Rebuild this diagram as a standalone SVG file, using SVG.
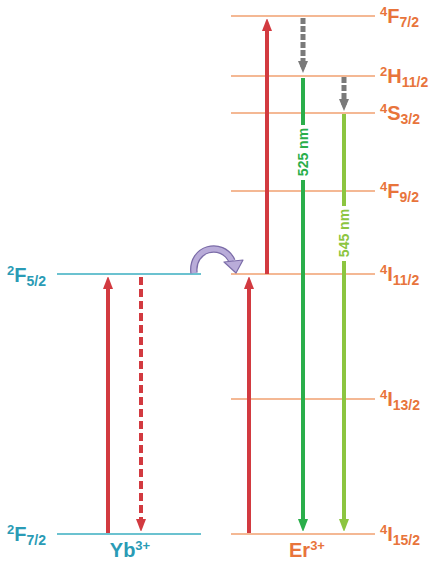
<svg xmlns="http://www.w3.org/2000/svg" width="433" height="562" viewBox="0 0 433 562">
<defs>
<style>
.er{stroke:#f0a070;stroke-width:1.5}
.yb{stroke:#3aaec0;stroke-width:1.5}
.lo{fill:#e8743b;font-family:"Liberation Sans",Arial,sans-serif;font-weight:bold;font-size:20px}
.lb{fill:#2a9bb5;font-family:"Liberation Sans",Arial,sans-serif;font-weight:bold;font-size:20px}
.sup{font-size:13px}
.sub{font-size:14px}
.red{stroke:#d23a40;stroke-width:4;fill:none}
.gray{stroke:#7a7a7a;stroke-width:5;fill:none;stroke-dasharray:6 2}
.g1{stroke:#2aae4a;stroke-width:4;fill:none}
.g2{stroke:#8cc540;stroke-width:4;fill:none}
.nm{font-family:"Liberation Sans",Arial,sans-serif;font-weight:bold;font-size:14px}
</style>
<marker id="hr" markerWidth="12" markerHeight="12" refX="6" refY="6" orient="auto" markerUnits="userSpaceOnUse" viewBox="0 0 12 12"><path d="M0,1 L13,6 L0,11z" fill="#d23a40"/></marker>
<marker id="hg" markerWidth="12" markerHeight="12" refX="6" refY="6" orient="auto" markerUnits="userSpaceOnUse" viewBox="0 0 12 12"><path d="M0,1 L12,6 L0,11z" fill="#7a7a7a"/></marker>
<marker id="hg1" markerWidth="12" markerHeight="12" refX="6" refY="6" orient="auto" markerUnits="userSpaceOnUse" viewBox="0 0 12 12"><path d="M0,1 L13,6 L0,11z" fill="#2aae4a"/></marker>
<marker id="hg2" markerWidth="12" markerHeight="12" refX="6" refY="6" orient="auto" markerUnits="userSpaceOnUse" viewBox="0 0 12 12"><path d="M0,1 L13,6 L0,11z" fill="#8cc540"/></marker>
</defs>
<rect width="433" height="562" fill="#ffffff"/>
<g id="yb-levels">
<line class="yb" x1="57" y1="274" x2="201" y2="274"/>
<line class="yb" x1="57" y1="534" x2="201" y2="534"/>
<text class="lb" x="7" y="282"><tspan class="sup" dy="-7">2</tspan><tspan dy="7">F</tspan><tspan class="sub" dy="4">5/2</tspan></text>
<text class="lb" x="7" y="541"><tspan class="sup" dy="-7">2</tspan><tspan dy="7">F</tspan><tspan class="sub" dy="4">7/2</tspan></text>
<text class="lb" x="130" y="557" text-anchor="middle">Yb<tspan class="sup" dy="-7">3+</tspan></text>
</g>
<g id="er-levels">
<line class="er" x1="231" y1="16" x2="375" y2="16"/>
<line class="er" x1="231" y1="76" x2="375" y2="76"/>
<line class="er" x1="231" y1="113" x2="375" y2="113"/>
<line class="er" x1="231" y1="191" x2="375" y2="191"/>
<line class="er" x1="231" y1="274" x2="375" y2="274"/>
<line class="er" x1="231" y1="399" x2="375" y2="399"/>
<line class="er" x1="231" y1="534" x2="375" y2="534"/>
<text class="lo" x="380" y="23"><tspan class="sup" dy="-7">4</tspan><tspan dy="7">F</tspan><tspan class="sub" dy="4">7/2</tspan></text>
<text class="lo" x="380" y="83"><tspan class="sup" dy="-7">2</tspan><tspan dy="7">H</tspan><tspan class="sub" dy="4">11/2</tspan></text>
<text class="lo" x="380" y="120"><tspan class="sup" dy="-7">4</tspan><tspan dy="7">S</tspan><tspan class="sub" dy="4">3/2</tspan></text>
<text class="lo" x="380" y="198"><tspan class="sup" dy="-7">4</tspan><tspan dy="7">F</tspan><tspan class="sub" dy="4">9/2</tspan></text>
<text class="lo" x="380" y="281"><tspan class="sup" dy="-7">4</tspan><tspan dy="7">I</tspan><tspan class="sub" dy="4">11/2</tspan></text>
<text class="lo" x="380" y="406"><tspan class="sup" dy="-7">4</tspan><tspan dy="7">I</tspan><tspan class="sub" dy="4">13/2</tspan></text>
<text class="lo" x="380" y="541"><tspan class="sup" dy="-7">4</tspan><tspan dy="7">I</tspan><tspan class="sub" dy="4">15/2</tspan></text>
<text class="lo" x="307" y="557" text-anchor="middle">Er<tspan class="sup" dy="-7">3+</tspan></text>
</g>
<g id="connectors">
<line class="red" x1="108" y1="533" x2="108" y2="283" marker-end="url(#hr)"/>
<line class="red" x1="141" y1="277" x2="141" y2="525" stroke-dasharray="8 4" marker-end="url(#hr)"/>
<line class="red" x1="249" y1="533" x2="249" y2="283" marker-end="url(#hr)"/>
<line class="red" x1="267" y1="274" x2="267" y2="25" marker-end="url(#hr)"/>
<line class="gray" x1="303" y1="18" x2="303" y2="67" marker-end="url(#hg)"/>
<line class="gray" x1="344" y1="77" x2="344" y2="105" marker-end="url(#hg)"/>
<line class="g1" x1="303" y1="78" x2="303" y2="525" marker-end="url(#hg1)"/>
<line class="g2" x1="344" y1="114" x2="344" y2="525" marker-end="url(#hg2)"/>
<rect x="295" y="125" width="16" height="55" fill="#ffffff"/>
<rect x="336" y="206" width="16" height="55" fill="#ffffff"/>
<text class="nm" fill="#2aae4a" transform="translate(308,152) rotate(-90)" text-anchor="middle">525 nm</text>
<text class="nm" fill="#8cc540" transform="translate(349,233) rotate(-90)" text-anchor="middle">545 nm</text>
<path d="M194,273 C191,248 222,240 232,261" fill="none" stroke="#7b6ca8" stroke-width="7.5"/>
<path d="M194,273 C191,248 222,240 232,261" fill="none" stroke="#b9acd9" stroke-width="5"/>
<path d="M224,262 L243,260 L236,273 Z" fill="#b9acd9" stroke="#7b6ca8" stroke-width="1.2" stroke-linejoin="round"/>
</g>
</svg>
